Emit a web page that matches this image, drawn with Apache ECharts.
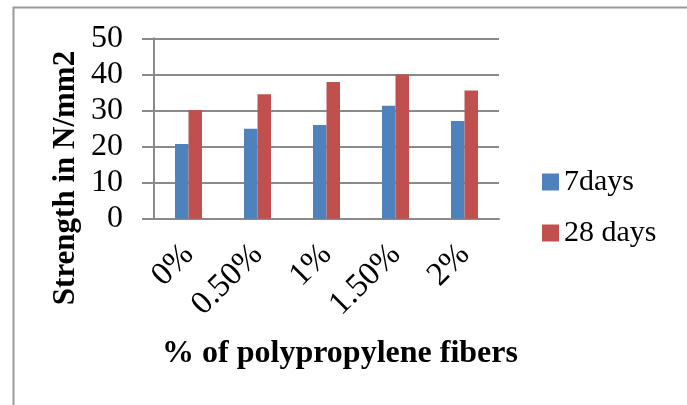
<!DOCTYPE html>
<html>
<head>
<meta charset="utf-8">
<script src="https://cdn.jsdelivr.net/npm/echarts@6/dist/echarts.min.js"></script>
<style>
html,body{margin:0;padding:0;background:#fff;}
#chart{width:687px;height:405px;}
</style>
</head>
<body>
<div id="chart"></div>
<script>
const categories = ['0%', '0.50%', '1%', '1.50%', '2%'];
const days7 = [20.7, 24.9, 26.0, 31.3, 27.1];
const days28 = [30.1, 34.5, 37.9, 40.0, 35.5];
const seriesNames = ['7days', '28 days'];
const yTitle = 'Strength in N/mm2';
const xTitle = '% of polypropylene fibers';

const FONT = "'Liberation Serif', 'Times New Roman', serif";
const GRIDC = '#8a8a8a';
const chart = echarts.init(document.getElementById('chart'), null, {renderer: 'canvas'});
chart.setOption({
  animation: false,
  backgroundColor: '#fff',
  grid: {left: 154, right: 188, top: 38.3, bottom: 186.3, containLabel: false},
  legend: {
    orient: 'vertical', left: 542, top: 167, padding: 0,
    itemWidth: 17, itemHeight: 17, itemGap: 21,
    icon: 'rect',
    textStyle: {fontFamily: FONT, fontSize: 30, color: '#000'},
    data: seriesNames
  },
  xAxis: {
    type: 'category', data: categories,
    axisLine: {show: true, lineStyle: {color: GRIDC, width: 2}},
    axisTick: {show: false},
    axisLabel: {rotate: 45, margin: 31, fontFamily: FONT, fontSize: 33, color: '#000', interval: 0}
  },
  yAxis: {
    type: 'value', min: 0, max: 50, interval: 10,
    axisLine: {show: true, lineStyle: {color: GRIDC, width: 2}},
    axisTick: {show: true, length: 12, lineStyle: {color: GRIDC, width: 2}},
    splitLine: {show: true, lineStyle: {color: GRIDC, width: 2}},
    axisLabel: {margin: 31, fontFamily: FONT, fontSize: 32, color: '#000'}
  },
  graphic: [
    {type: 'rect', left: 11, top: 5, shape: {width: 800, height: 600}, style: {fill: 'none', stroke: '#9a9a9a', lineWidth: 2}, silent: true},
    {type: 'text', x: 66, y: 178, rotation: Math.PI / 2,
      style: {text: yTitle, font: 'bold 31px ' + FONT, fill: '#000', textAlign: 'center', textVerticalAlign: 'middle'}},
    {type: 'text', x: 340, y: 354,
      style: {text: xTitle, font: 'bold 32px ' + FONT, fill: '#000', textAlign: 'center', textVerticalAlign: 'middle'}}
  ],
  series: [
    {name: seriesNames[0], type: 'bar', data: days7, barWidth: 13.5, barGap: '0%', itemStyle: {color: '#4F81BD'}},
    {name: seriesNames[1], type: 'bar', data: days28, barWidth: 13.5, barGap: '0%', itemStyle: {color: '#C0504D'}}
  ]
});
</script>
</body>
</html>
